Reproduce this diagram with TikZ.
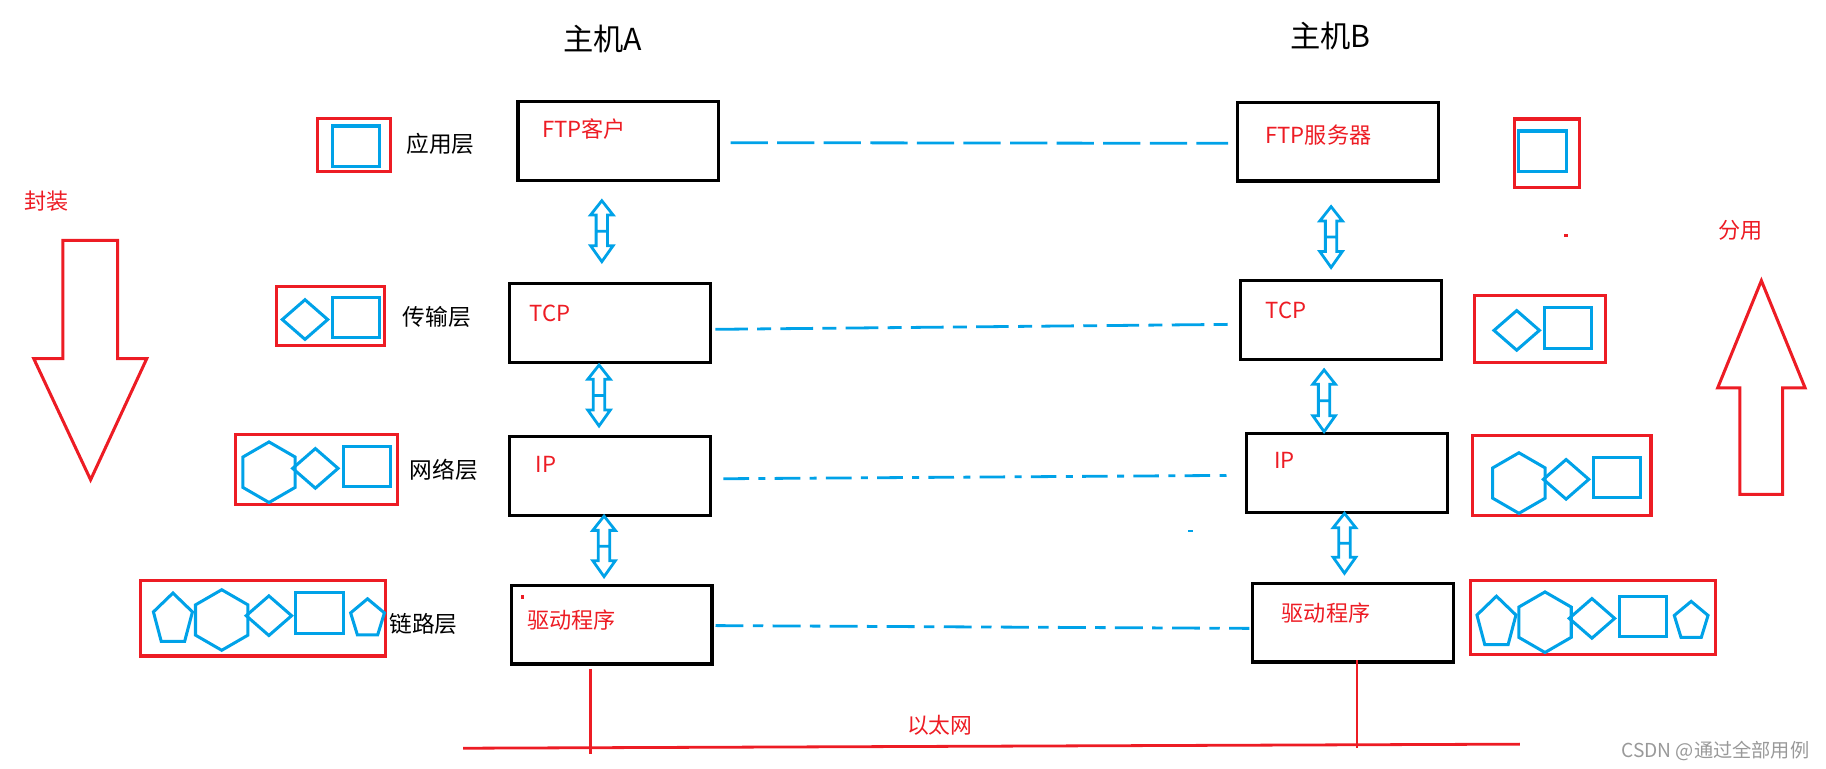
\documentclass[tikz,border=0pt]{standalone}
\usepackage{xcolor}
\usepackage{fontspec}
\setmainfont{Noto Sans CJK SC}
\usepackage{tikz}
\usetikzlibrary{calc}

\definecolor{paintred}{RGB}{237,28,36}
\definecolor{paintblue}{RGB}{0,162,232}

\tikzset{
  icon/.style={draw=paintblue,line width=2.6pt},
  pics/sqr/.style 2 args={code={\draw[icon] (-#1/2,-#2/2) rectangle (#1/2,#2/2);}},
  pics/dia/.style 2 args={code={\draw[icon] (-#1/2,0) -- (0,-#2/2) -- (#1/2,0) -- (0,#2/2) -- cycle;}},
  pics/hexa/.style={code={\draw[icon] (0,-#1) -- (0.866*#1,-#1/2) -- (0.866*#1,#1/2) -- (0,#1) -- (-0.866*#1,#1/2) -- (-0.866*#1,-#1/2) -- cycle;}},
  pics/penta/.style 2 args={code={\draw[icon] (0,-#2/2) -- (#1/2,-0.11*#2) -- (0.3*#1,#2/2) -- (-0.3*#1,#2/2) -- (-#1/2,-0.11*#2) -- cycle;}},
}

% hollow up/down arrow between two points
\newcommand{\updown}[2]{%
  \draw[updn] let \p1=#1, \p2=#2 in
    (\x1,\y1) -- ({\x1+9.7pt},{\y1-12.3pt}) -- ({\x1+4.9pt},{\y1-12.3pt})
    -- ({\x1+4.9pt},{\y2+13.7pt}) -- ({\x1+9.7pt},{\y2+13.7pt}) -- (\x1,\y2)
    -- ({\x1-9.7pt},{\y2+13.7pt}) -- ({\x1-4.9pt},{\y2+13.7pt})
    -- ({\x1-4.9pt},{\y1-12.3pt}) -- ({\x1-9.7pt},{\y1-12.3pt}) -- cycle
    ({\x1-4.9pt},{(\y1+\y2)/2}) -- ({\x1+4.9pt},{(\y1+\y2)/2});
}

\begin{document}
\begin{tikzpicture}[x=1pt,y=-1pt,
  layerbox/.style={draw,line width=2.8pt,minimum width=172.2pt,minimum height=67.5pt,inner sep=0pt},
  redbox/.style={draw=paintred,line width=2.6pt},
  redtxt/.style={text=paintred,anchor=west,inner sep=0pt,font=\fontsize{19}{23}\selectfont},
  layertxt/.style={anchor=west,inner sep=0pt,font=\fontsize{19.5}{23}\selectfont},
  hosttxt/.style={inner sep=0pt,font=\fontsize{26}{30}\selectfont},
  updn/.style={draw=paintblue,line width=2.4pt},
  peer/.style={draw=paintblue,line width=2.4pt},
  ethline/.style={draw=paintred,line width=2.4pt}]
\useasboundingbox (0,0) rectangle (1568,660);
%\draw[color=black!20,step=50] (0,0) grid (1568,660);

\node[hosttxt] (hostA) at (517.4,33.6) {主机A};
\node[hosttxt] (hostB) at (1142.4,30.8) {主机B};

\node[layerbox] (appA) at (530.8,121) {};
\node[layerbox] (appB) at (1149,121.6) {};
\node[layerbox] (tcpA) at (523.7,277.3) {};
\node[layerbox] (tcpB) at (1151.5,274.8) {};
\node[layerbox] (ipA) at (523.7,408.6) {};
\node[layerbox] (ipB) at (1156.6,406.2) {};
\node[layerbox] (linkA) at (525.4,536.5) {};
\node[layerbox] (linkB) at (1161.9,534.8) {};

\node[redtxt] (appAtxt) at (465.4,110.6) {FTP客户};
\node[redtxt] (appBtxt) at (1086.4,116) {FTP服务器};
\node[redtxt] (tcpAtxt) at (454.6,268.8) {TCP};
\node[redtxt] (tcpBtxt) at (1086.4,266.7) {TCP};
\node[redtxt] (ipAtxt) at (460,399) {IP};
\node[redtxt] (ipBtxt) at (1094.2,395.5) {IP};
\node[redtxt] (linkAtxt) at (452.5,532.4) {驱动程序};
\node[redtxt] (linkBtxt) at (1100.5,526.1) {驱动程序};

\node[layertxt] (lblApp) at (348.9,123.4) {应用层};
\node[layertxt] (lblTcp) at (345.5,272) {传输层};
\node[layertxt] (lblIp) at (351.8,403.6) {网络层};
\node[layertxt] (lblLink) at (334.3,536) {链路层};

% peer lines
\draw[peer,dash pattern=on 32pt off 8pt] ($(appA.east)+(9,1.5)$) -- ($(appB.west)+(-7,1.5)$);
\draw[peer,dash pattern=on 28pt off 8pt on 12pt off 8pt] ($(tcpA.east)+(3,5.5)$) -- ($(tcpB.west)+(-4,3.7)$);
\draw[peer,dash pattern=on 22pt off 8pt on 6pt off 8pt] ($(ipA.east)+(10,2.5)$) -- ($(ipB.west)+(-8.5,2)$);
\draw[peer,dash pattern=on 24pt off 8pt on 9pt off 8pt] ($(linkA.east)+(1.5,0.7)$) -- ($(linkB.west)+(-1.5,4.8)$);

% up/down arrows
\updown{($(appA.south)+(-14,16.2)$)}{($(tcpA.north)+(-6.9,-17.5)$)}
\updown{($(tcpA.south)+(-9.3,1)$)}{($(ipA.north)+(-9.3,-7.7)$)}
\updown{($(ipA.south)+(-5,-0.6)$)}{($(linkA.north)+(-6.7,-6.2)$)}
\updown{($(appB.south)+(-6,20.7)$)}{($(tcpB.north)+(-8.5,-10)$)}
\updown{($(tcpB.south)+(-14.5,7.7)$)}{($(ipB.north)+(-19.6,-0.4)$)}
\updown{($(ipB.south)+(-2.1,-0.5)$)}{($(linkB.north)+(-7.4,-7.4)$)}

% ethernet
\coordinate (ethL) at (397.6,642.5);
\coordinate (ethR) at (1305.2,639);
\draw[ethline] (ethL) -- (ethR);
\draw[ethline] ($(linkA.south)+(-18.4,2.4)$) -- ++(0,73);
\draw[ethline] ($(linkB.south)+(3.3,-3)$) -- ++(0,75.6);
\node[text=paintred,inner sep=0pt,font=\fontsize{18.7}{22}\selectfont] (ether) at (807,623) {以太网};

% left icons
\draw[redbox] (273,101.4) rectangle (335.2,147.6);
\pic at (305.4,125.7) {sqr={40.5}{35}};
\draw[redbox] (237.2,245.7) rectangle (329.8,296.5);
\pic at (261.9,274.4) {dia={39}{34}};
\pic at (305.4,272.6) {sqr={40.5}{35}};
\draw[redbox] (202.2,372.7) rectangle (341,433.3);
\pic at (231,405.5) {hexa=26};
\pic at (270.8,402.2) {dia={39}{34}};
\pic at (315.2,400.5) {sqr={40.5}{35}};
\draw[redbox] (120.8,498.7) rectangle (330.9,563.3);
\pic at (148.5,530) {penta={33.5}{41.5}};
\pic at (190.4,532.4) {hexa=26};
\pic at (230.9,528.7) {dia={39}{34}};
\pic at (274.4,526.6) {sqr={40.5}{35}};
\pic at (315.6,529.7) {penta={29}{31}};

% right icons
\draw[redbox] (1300.5,102.2) rectangle (1356.5,161.1);
\pic at (1324.5,130) {sqr={40.5}{35}};
\draw[redbox] (1266,253.4) rectangle (1378.8,311.4);
\pic at (1302.4,283.7) {dia={39}{34}};
\pic at (1346.3,281.7) {sqr={40.5}{35}};
\draw[redbox] (1264.2,373.6) rectangle (1417.7,442.8);
\pic at (1304.3,414.8) {hexa=26};
\pic at (1344.8,411.6) {dia={39}{34}};
\pic at (1388.3,410) {sqr={40.5}{35}};
\draw[redbox] (1262.7,498.4) rectangle (1473.2,562.1);
\pic at (1285,532.7) {penta={33.5}{41.5}};
\pic at (1326.7,534.3) {hexa=26};
\pic at (1367,531) {dia={39}{34}};
\pic at (1410.6,529.3) {sqr={40.5}{35}};
\pic at (1452.2,531.9) {penta={29}{31}};

% encapsulate / demultiplex
\node[text=paintred,inner sep=0pt,font=\fontsize{19}{23}\selectfont] (encap) at (40,172.8) {封装};
\draw[redbox,line join=miter] (54,206.4) -- (101,206.4) -- (101,308) -- (126,308) -- (77.8,412) -- (29,308) -- (54,308) -- cycle;
\node[text=paintred,inner sep=0pt,font=\fontsize{19}{23}\selectfont] (demux) at (1494.4,198.2) {分用};
\draw[redbox,line join=miter] (1512.5,241) -- (1550,333) -- (1530.8,333) -- (1530.8,424.5) -- (1494,424.5) -- (1494,333) -- (1475,333) -- cycle;

% stray marks
\fill[paintred] (447,511) rectangle (450,514);
\fill[paintred] (1343.3,200.9) rectangle (1346.3,203.9);
\fill[paintblue] (1020,454.7) rectangle (1024,456.7);

\node[text=black!40,inner sep=0pt,font=\fontsize{16.5}{20}\selectfont] (mark) at (1473,644.8) {CSDN @通过全部用例};
\end{tikzpicture}
\end{document}
